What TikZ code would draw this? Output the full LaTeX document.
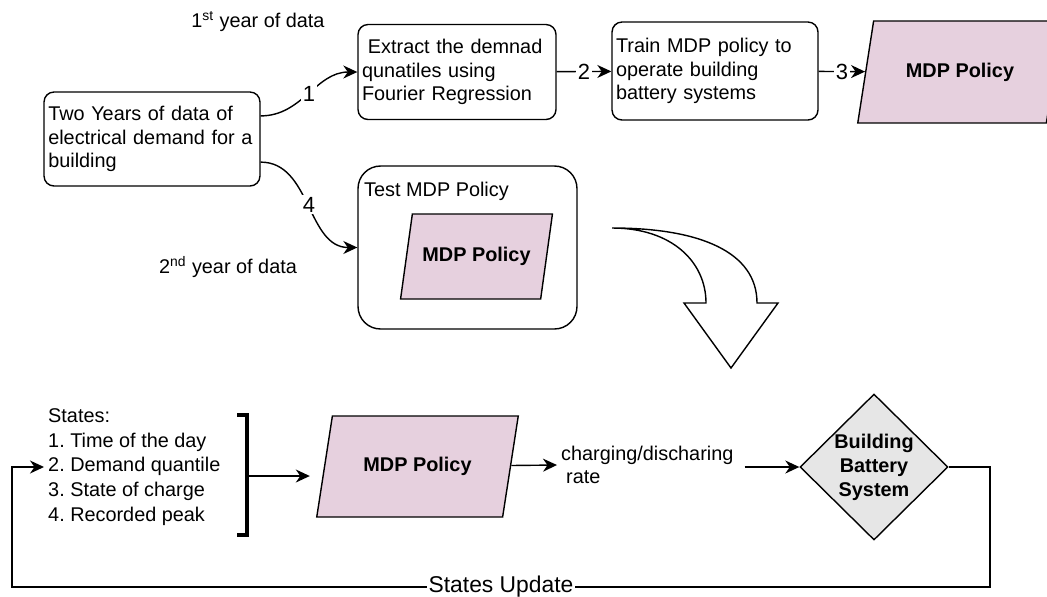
\documentclass[tikz,border=0pt]{standalone}
\usepackage{fontspec}
\setmainfont{Liberation Sans}
\usepackage{xcolor}
\usepackage{tikz}
\usetikzlibrary{shapes.geometric,arrows.meta}
\definecolor{policypink}{RGB}{230, 208, 222}
\definecolor{batterygray}{RGB}{230, 230, 230}
\frenchspacing

\begin{document}
\begin{tikzpicture}[x=0.02cm, y=-0.02cm, thick,
            >={Stealth[length=2.8mm, width=2.6mm, inset=0.9mm]},
              txt/.style = {font=\fontsize{11.3}{13.4}\selectfont, inner sep=2pt},
              box/.style = {txt, draw, rounded corners=2mm, align=left},
           policy/.style = {draw, fill=policypink, trapezium, trapezium left angle=70, trapezium right angle=110,
                            trapezium stretches=true, font=\fontsize{11.3}{13.4}\selectfont\bfseries},
          battery/.style = {draw, fill=batterygray, diamond, inner sep=0pt, minimum width=2.96cm, minimum height=2.92cm,
                            align=center, font=\fontsize{11.3}{13.6}\selectfont\bfseries},
              num/.style = {fill=white, inner sep=1pt, font=\fontsize{12.5}{14}\selectfont}]
        \useasboundingbox (0,0) rectangle (1047,596);
        % training part
        \node[box, minimum width=4.32cm, minimum height=1.88cm, text width=4.15cm] (data) at (152,139) {Two Years of data of\\electrical demand for a\\building};
        \node[box, minimum width=3.96cm, minimum height=1.9cm, text width=3.8cm] (extract) at (457,72) {\hspace*{0.3em}Extract the demnad\\qunatiles using\\Fourier Regression};
        \node[box, minimum width=4.12cm, minimum height=1.96cm, text width=3.96cm] (train) at (715,71) {Train MDP policy to\\operate building\\battery systems};
        \node[policy, minimum width=4.12cm, minimum height=2.04cm] (policy1) at (960,72) {MDP Policy};
        \node[txt] (year1) at (258,22) {1\textsuperscript{st} year of data};
        \node[txt] (year2) at (228,267) {2\textsuperscript{nd} year of data};
        % testing part
        \node[draw, rounded corners=4.5mm, minimum width=4.38cm, minimum height=3.26cm] (test) at (467.5,247.5) {};
        \node[txt, anchor=base west] (testlabel) at (360,196) {Test MDP Policy};
        \node[policy, minimum width=3.06cm, minimum height=1.7cm] (policy2) at (476.5,256.5) {MDP Policy};
        \draw[->] (data.12) to[out=0, in=180] node[num] {1} (extract.west);
        \draw[->] (data.-12) to[out=0, in=180] node[num] {4} (test.west);
        \draw[->] (extract) -- node[num] {2} (train);
        \draw[->] (train) -- node[num] {3} (policy1);
        \draw[fill=white] (612,228) .. controls (672,228) and (706,262) .. (706,303) -- (684,303) -- (731,368) -- (778,303)
            -- (757,303) .. controls (757,252) and (700,228) .. (612,228) -- cycle;
        % operation loop
        \node[txt, align=left, anchor=west, font=\fontsize{11.3}{14}\selectfont] (states) at (44,467) {States:\\1. Time of the day\\2. Demand quantile\\3. State of charge\\4. Recorded peak};
        \draw[line width=1.8pt] (237,415) -- (247,415) -- (247,535) -- (237,535);
        \coordinate (bracket) at (247,476);
        \node[policy, minimum width=4.06cm, minimum height=2.02cm] (policy3) at (417.5,466.5) {MDP Policy};
        \node[txt, align=left, anchor=west] (rate) at (557,465) {charging/discharing\\\hspace*{0.25em}rate};
        \node[battery] (battery) at (874,467) {Building\\Battery\\System};
        \draw[->, shorten >=8pt] (bracket) -- (bracket -| policy3.west);
        \draw[->] (policy3) -- (rate.west);
        \draw[->, shorten <=4pt] (rate.east |- battery.west) -- (battery.west);
        \draw[->] (battery.east) -- (990,467) -- (990,587) -- node[fill=white, inner sep=1pt, font=\fontsize{13}{15}\selectfont] {States Update} (12,587) |- (states.west);
\end{tikzpicture}
\end{document}
